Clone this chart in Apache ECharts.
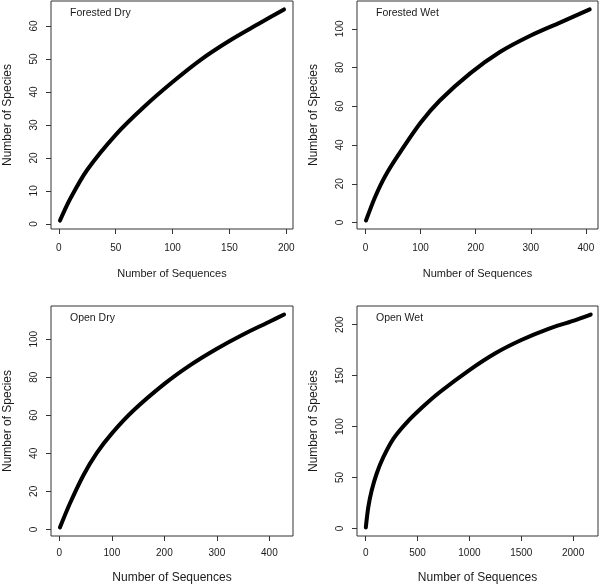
<!DOCTYPE html>
<html>
<head>
<meta charset="utf-8">
<script src="https://cdn.jsdelivr.net/npm/echarts@6/dist/echarts.min.js"></script>
<style>
html,body{margin:0;padding:0;background:#fff;}
#chart{width:600px;height:587px;}
</style>
</head>
<body>
<div id="chart"></div>
<script>
// Panel titles
var panelNames = ["Forested Dry", "Forested Wet", "Open Dry", "Open Wet"];
var xTitle = "Number of Sequences";
var yTitle = "Number of Species";

// Forested Dry
var fdX = [1, 10, 25, 50, 75, 100, 125, 150, 175, 198];
var fdY = [1, 7.6, 16.4, 27, 35.5, 43, 49.8, 55.5, 60.5, 65];
// Forested Wet
var fwX = [1, 17, 35, 60, 100, 135, 190, 244, 299, 353, 407];
var fwY = [1, 12.8, 23.5, 35, 51.5, 63, 77, 88, 96.4, 103.2, 110];
// Open Dry
var odX = [1, 20, 46, 71, 100, 141, 200, 250, 300, 350, 400, 428];
var odY = [1, 13.6, 28.6, 40.1, 50.5, 62.5, 76.5, 86.5, 95, 102.5, 109.2, 113];
// Open Wet
var owX = [1, 25, 58, 106, 170, 266, 395, 556, 716, 1000, 1250, 1500, 1750, 2000, 2170];
var owY = [1, 21, 37.5, 54, 70, 88, 104, 120, 134, 155.5, 172, 185, 195.5, 203.8, 210];

// Tick labels
var fdXTicks = [0, 50, 100, 150, 200];
var fdYTicks = [0, 10, 20, 30, 40, 50, 60];
var fwXTicks = [0, 100, 200, 300, 400];
var fwYTicks = [0, 20, 40, 60, 80, 100];
var odXTicks = [0, 100, 200, 300, 400];
var odYTicks = [0, 20, 40, 60, 80, 100];
var owXTicks = [0, 500, 1000, 1500, 2000];
var owYTicks = [0, 50, 100, 150, 200];

function zip(a, b) { return a.map(function (v, i) { return [v, b[i]]; }); }
function plain(v) { return String(v); }

var FONT = '"Liberation Sans", Arial, Helvetica, sans-serif';
var TXT = '#1a1a1a';

var panels = [
  { xs: fdX, ys: fdY, xt: fdXTicks, yt: fdYTicks, xmin: -6.9, xmax: 205.9, ymin: -1.56, ymax: 67.56,
    grid: { left: 51, top: 1, width: 242, height: 228 }, xFont: 11, xGap: 39, xMargin: 14 },
  { xs: fwX, ys: fwY, xt: fwXTicks, yt: fwYTicks, xmin: -15.3, xmax: 422, ymin: -3.36, ymax: 114.36,
    grid: { left: 357, top: 1, width: 241, height: 228 }, xFont: 11, xGap: 39, xMargin: 14 },
  { xs: odX, ys: odY, xt: odXTicks, yt: odYTicks, xmin: -16, xmax: 445, ymin: -3.48, ymax: 117.48,
    grid: { left: 51, top: 306, width: 242, height: 230 }, xFont: 12, xGap: 36, xMargin: 12 },
  { xs: owX, ys: owY, xt: owXTicks, yt: owYTicks, xmin: -84, xmax: 2240, ymin: -7.36, ymax: 218.36,
    grid: { left: 357, top: 306, width: 241, height: 230 }, xFont: 12, xGap: 36, xMargin: 12 }
];

var option = {
  animation: false,
  backgroundColor: '#fff',
  title: [], grid: [], xAxis: [], yAxis: [], series: []
};

panels.forEach(function (p, i) {
  option.grid.push({
    left: p.grid.left, top: p.grid.top, width: p.grid.width, height: p.grid.height,
    show: true, borderColor: '#333', borderWidth: 1, backgroundColor: 'transparent',
    containLabel: false
  });
  option.title.push({
    text: panelNames[i],
    left: p.grid.left + 19,
    top: p.grid.top + 7,
    padding: 0,
    textStyle: { fontFamily: FONT, fontSize: 10.5, fontWeight: 'normal', color: TXT }
  });
  option.xAxis.push({
    type: 'value', gridIndex: i, min: p.xmin, max: p.xmax,
    name: xTitle, nameLocation: 'middle', nameGap: p.xGap,
    nameTextStyle: { fontFamily: FONT, fontSize: p.xFont, color: TXT },
    axisLine: { show: false, onZero: false },
    splitLine: { show: false },
    axisTick: { show: true, inside: false, length: 5, customValues: p.xt, lineStyle: { color: '#333', width: 1 } },
    axisLabel: { show: true, customValues: p.xt, formatter: plain, margin: p.xMargin, fontFamily: FONT, fontSize: 10, color: TXT }
  });
  option.yAxis.push({
    type: 'value', gridIndex: i, min: p.ymin, max: p.ymax,
    name: yTitle, nameLocation: 'middle', nameGap: 37, nameRotate: 90,
    nameTextStyle: { fontFamily: FONT, fontSize: 12, color: TXT },
    axisLine: { show: false, onZero: false },
    splitLine: { show: false },
    axisTick: { show: true, inside: false, length: 5, customValues: p.yt, lineStyle: { color: '#333', width: 1 } },
    axisLabel: { show: true, customValues: p.yt, formatter: plain, rotate: 90, margin: 12, fontFamily: FONT, fontSize: 10, color: TXT }
  });
  option.series.push({
    type: 'line', xAxisIndex: i, yAxisIndex: i,
    data: zip(p.xs, p.ys),
    showSymbol: false, smooth: 0.3,
    lineStyle: { color: '#000', width: 4, cap: 'round', join: 'round' },
    silent: true
  });
});

var chart = echarts.init(document.getElementById('chart'), null, { renderer: 'canvas' });
chart.setOption(option);
</script>
</body>
</html>
